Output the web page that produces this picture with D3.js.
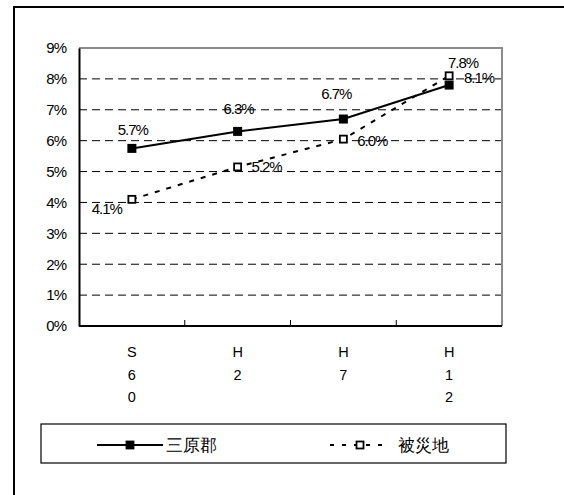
<!DOCTYPE html>
<html>
<head>
<meta charset="utf-8">
<script src="https://cdn.jsdelivr.net/npm/d3@7"></script>
<style>
  body { margin: 0; background: #fff; }
  text { font-family: "Liberation Sans", Arial, sans-serif; }
</style>
</head>
<body>
<div class="chart"></div>
<script>
var svgWidth = 564;
var svgHeight = 495;

// data
var categories = ["S60", "H2", "H7", "H12"];
var sanbara = [5.75, 6.3, 6.7, 7.8];
var hisaichi = [4.1, 5.15, 6.05, 8.1];
var sanbaraLabels = ["5.7%", "6.3%", "6.7%", "7.8%"];
var hisaichiLabels = ["4.1%", "5.2%", "6.0%", "8.1%"];
var yTicks = [0, 1, 2, 3, 4, 5, 6, 7, 8, 9];
var seriesNames = ["三原郡", "被災地"];

var margin = { top: 48, left: 79, right: 62, bottom: 169 };
var width = svgWidth - margin.left - margin.right;
var height = svgHeight - margin.top - margin.bottom;

var svg = d3.select(".chart")
  .append("svg")
  .attr("width", svgWidth)
  .attr("height", svgHeight);

// outer frame (runs off right and bottom)
svg.append("rect")
  .attr("x", 14).attr("y", 7)
  .attr("width", 620).attr("height", 600)
  .attr("fill", "none")
  .attr("stroke", "#000")
  .attr("stroke-width", 2);

var chartGroup = svg.append("g")
  .attr("transform", `translate(${margin.left}, ${margin.top})`);

var x = d3.scaleBand().domain(categories).range([0, width]);
var y = d3.scaleLinear().domain([0, 9]).range([height, 0]);

// gridlines
chartGroup.selectAll(".grid")
  .data(yTicks.filter(d => d > 0 && d < 9))
  .join("line")
  .attr("x1", 0).attr("x2", width)
  .attr("y1", d => y(d)).attr("y2", d => y(d))
  .attr("stroke", "#000")
  .attr("stroke-width", 1)
  .attr("stroke-dasharray", "8,5");

// top and right border, gray
chartGroup.append("path")
  .attr("d", `M0,${y(9)}H${width}V${height}`)
  .attr("fill", "none")
  .attr("stroke", "#8c8c8c")
  .attr("stroke-width", 2);

// left axis
var leftAxis = d3.axisLeft(y).tickValues(yTicks).tickSize(0).tickPadding(13).tickFormat(d => d + "%");
chartGroup.append("g")
  .call(leftAxis)
  .call(g => g.select(".domain").attr("stroke", "#000").attr("stroke-width", 2))
  .call(g => g.selectAll("text").attr("font-size", 15).attr("letter-spacing", -1).attr("fill", "#000")
    .attr("font-family", "'Liberation Sans', Arial, sans-serif"));

// bottom axis with inner ticks between categories
chartGroup.append("line")
  .attr("x1", 0).attr("x2", width)
  .attr("y1", height).attr("y2", height)
  .attr("stroke", "#000").attr("stroke-width", 2);

chartGroup.selectAll(".xtick")
  .data(categories.slice(1))
  .join("line")
  .attr("x1", d => x(d)).attr("x2", d => x(d))
  .attr("y1", height).attr("y2", height - 6)
  .attr("stroke", "#000").attr("stroke-width", 1);

// category labels, stacked vertically
chartGroup.selectAll(".xlabel")
  .data(categories)
  .join("text")
  .attr("text-anchor", "middle")
  .attr("font-size", 14.5)
  .attr("transform", d => `translate(${x(d) + x.bandwidth() / 2}, ${height + 31})`)
  .each(function(d) {
    var t = d3.select(this);
    d.split("").forEach(function(c, i) {
      t.append("tspan").attr("x", 0).attr("y", i * 22.7).text(c);
    });
  });

var cx = d => x(d) + x.bandwidth() / 2;

// 被災地 dotted line
var line1 = d3.line().x((d, i) => cx(categories[i])).y(d => y(d));
chartGroup.append("path")
  .datum(hisaichi)
  .attr("d", line1)
  .attr("fill", "none")
  .attr("stroke", "#000")
  .attr("stroke-width", 2)
  .attr("stroke-dasharray", "5,7");

// 三原郡 solid line
chartGroup.append("path")
  .datum(sanbara)
  .attr("d", line1)
  .attr("fill", "none")
  .attr("stroke", "#000")
  .attr("stroke-width", 2);

// markers
chartGroup.selectAll(".m1")
  .data(sanbara)
  .join("rect")
  .attr("x", (d, i) => cx(categories[i]) - 4.5)
  .attr("y", d => y(d) - 4.5)
  .attr("width", 9).attr("height", 9)
  .attr("fill", "#000");

chartGroup.selectAll(".m2")
  .data(hisaichi)
  .join("rect")
  .attr("x", (d, i) => cx(categories[i]) - 3.5)
  .attr("y", d => y(d) - 3.5)
  .attr("width", 7).attr("height", 7)
  .attr("fill", "#fff")
  .attr("stroke", "#000")
  .attr("stroke-width", 1.8);

// data labels
var lab1Offset = [[1, -19], [1, -23], [-7, -25], [14, -22]];
chartGroup.selectAll(".l1")
  .data(sanbara)
  .join("text")
  .attr("x", (d, i) => cx(categories[i]) + lab1Offset[i][0])
  .attr("y", (d, i) => y(d) + lab1Offset[i][1])
  .attr("dy", "0.35em")
  .attr("text-anchor", "middle")
  .attr("font-size", 15)
  .attr("letter-spacing", -1)
  .text((d, i) => sanbaraLabels[i]);

var lab2Offset = [[-25, 9], [29, 0], [29, 1.5], [30, 1.5]];
chartGroup.selectAll(".l2")
  .data(hisaichi)
  .join("text")
  .attr("x", (d, i) => cx(categories[i]) + lab2Offset[i][0])
  .attr("y", (d, i) => y(d) + lab2Offset[i][1])
  .attr("dy", "0.35em")
  .attr("text-anchor", "middle")
  .attr("font-size", 15)
  .attr("letter-spacing", -1)
  .text((d, i) => hisaichiLabels[i]);

// legend
var legend = svg.append("g");
legend.append("rect")
  .attr("x", 41).attr("y", 424)
  .attr("width", 465).attr("height", 39)
  .attr("fill", "#fff")
  .attr("stroke", "#000")
  .attr("stroke-width", 1.2);

var legendItems = [
  { name: seriesNames[0], x1: 97, x2: 163, mx: 130, tx: 166, dash: null, fill: "#000" },
  { name: seriesNames[1], x1: 330, x2: 387, mx: 360, tx: 398, dash: "4,8", fill: "#fff" }
];

legendItems.forEach(function(it) {
  legend.append("line")
    .attr("x1", it.x1).attr("x2", it.x2)
    .attr("y1", 445).attr("y2", 445)
    .attr("stroke", "#000").attr("stroke-width", 2)
    .attr("stroke-dasharray", it.dash);
  legend.append("rect")
    .attr("x", it.mx - 3.5).attr("y", 441.5)
    .attr("width", 7).attr("height", 7)
    .attr("fill", it.fill)
    .attr("stroke", "#000").attr("stroke-width", 1.8);
  legend.append("text")
    .attr("x", it.tx).attr("y", 445)
    .attr("dy", "0.35em")
    .attr("font-size", 17)
    .attr("font-family", "'Noto Sans CJK JP', sans-serif")
    .text(it.name);
});
</script>
</body>
</html>
